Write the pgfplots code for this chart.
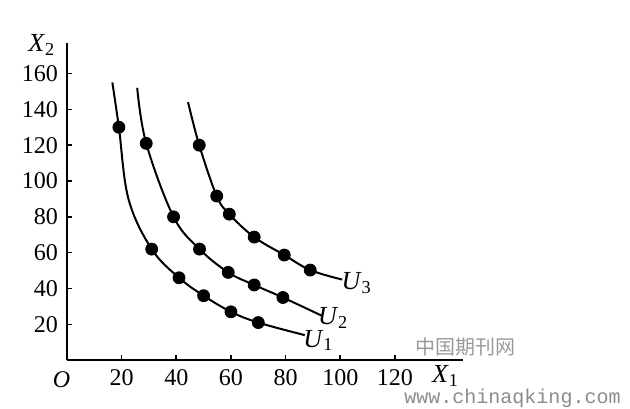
\documentclass[border=0pt]{standalone}
\usepackage{fontspec}
\setmainfont{Liberation Serif}
\setmonofont{Liberation Mono}
\newfontfamily\cjk{Noto Sans CJK SC}
\usepackage{pgfplots}
\pgfplotsset{compat=1.18}
\begin{document}
\begin{tikzpicture}
\begin{axis}[
  scale only axis,
  x=1.365pt, y=0.895pt,
  xmin=0, xmax=145, ymin=0, ymax=177,
  axis lines=left,
  axis line style={line width=1pt,-},
  xtick={20,40,...,120}, ytick={20,40,...,160},
  tick align=inside,
  major tick length=2.5pt,
  tick style={line width=0.8pt,black},
  ticklabel style={font=\fontsize{12}{14}\selectfont},
  /pgf/number format/assume math mode=true,
  xticklabel style={yshift=-1pt},
  yticklabel style={xshift=-1pt},
  clip=false,
]
% curves
\addplot[black, line width=1pt, smooth, tension=0.6] coordinates {
 (16.6,155) (19,130) (22.5,90) (31,62) (41,46) (50,36) (60,27) (70,21) (87,14)};
\addplot[black, line width=1pt, smooth, tension=0.6] coordinates {
 (25.7,152) (29,121) (39,80) (48.5,62) (59,49) (68.5,42) (79,35) (93,25)};
\addplot[black, line width=1pt, smooth, tension=0.6] coordinates {
 (44.3,144) (48.4,120) (54.8,91.6) (59.4,81.5) (68.5,68.7) (79.5,58.7) (89,50.3) (100.7,45)};
% dots
\addplot[only marks, mark=*, mark size=3pt, black] coordinates {
 (19,130) (31,62) (41,46) (50,36) (60,27) (70,21)};
\addplot[only marks, mark=*, mark size=3pt, black] coordinates {
 (29,121) (39,80) (48.5,62) (59,49) (68.5,42) (79,35)};
\addplot[only marks, mark=*, mark size=3pt, black] coordinates {
 (48.4,120) (54.8,91.6) (59.4,81.5) (68.5,68.7) (79.5,58.7) (89,50.3)};
% labels
\node[font=\fontsize{13}{15}\selectfont] at (axis cs:106,43) {\textit{U}\textsubscript{3}};
\node[font=\fontsize{13}{15}\selectfont] at (axis cs:97.4,23.5) {\textit{U}\textsubscript{2}};
\node[font=\fontsize{13}{15}\selectfont] at (axis cs:92,11) {\textit{U}\textsubscript{1}};
\node[font=\fontsize{13}{15}\selectfont] at (axis cs:-9.2,176) {\textit{X}\textsubscript{2}};
\node[font=\fontsize{13}{15}\selectfont] at (axis cs:138.5,-9) {\textit{X}\textsubscript{1}};
\node[font=\fontsize{12}{14}\selectfont] at (axis cs:-2,-11) {\textit{O}};
% watermark
\node[font=\cjk\fontsize{10}{12}\selectfont, text=black!40] at (axis cs:145.8,7.3) {中国期刊网};
\node[font=\ttfamily\fontsize{10}{11}\selectfont, text=black!45, inner sep=0pt] at (axis cs:163,-21.5) {www.chinaqking.com};
\coordinate (ll) at (axis cs:-24.5,-25.7);
\coordinate (ur) at (axis cs:206,201);
\end{axis}
\path (ll) rectangle (ur);
\end{tikzpicture}
\end{document}
